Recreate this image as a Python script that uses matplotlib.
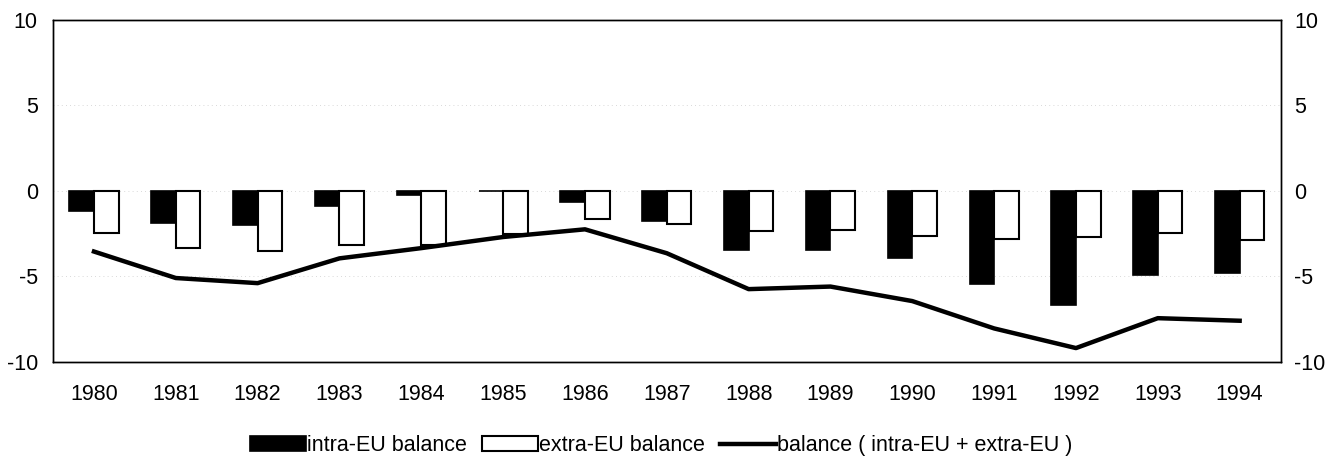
import numpy as np
import matplotlib.pyplot as plt

plt.rcParams['font.family'] = ['Liberation Sans', 'DejaVu Sans']
plt.rcParams['axes.unicode_minus'] = False

years = [1980, 1981, 1982, 1983, 1984, 1985, 1986, 1987,
         1988, 1989, 1990, 1991, 1992, 1993, 1994]
intra = [-1.2, -1.9, -2.0, -0.9, -0.25, 0.0, -0.65, -1.75,
         -3.45, -3.45, -3.95, -5.45, -6.65, -4.95, -4.8]
extra = [-2.45, -3.35, -3.5, -3.15, -3.15, -2.5, -1.65, -1.95,
         -2.35, -2.3, -2.65, -2.8, -2.7, -2.45, -2.85]
total = [-3.55, -5.1, -5.4, -3.95, -3.35, -2.7, -2.25, -3.65,
         -5.75, -5.6, -6.45, -8.05, -9.2, -7.45, -7.6]
yticks = [-10, -5, 0, 5, 10]

fs = 15.5

fig = plt.figure(figsize=(13.43, 4.62), dpi=100)
ax = fig.add_axes([0.0395, 0.217, 0.914, 0.7397])

x = np.arange(len(years))
w = 0.3
# faint dotted grid, barely visible in the scan
for yv in (-5, 0, 5):
    ax.axhline(yv, color='0.8', lw=0.6, ls=(0, (1, 4)), zorder=0)
b1 = ax.bar(x - w/2, intra, w, color='black', edgecolor='black', lw=1.2,
            label='intra-EU balance')
b2 = ax.bar(x + w/2, extra, w, color='white', edgecolor='black', lw=1.5,
            label='extra-EU balance')
l1, = ax.plot(x, total, color='black', lw=3.2,
              label='balance ( intra-EU + extra-EU )')

ax.set_xlim(-0.5, len(years) - 0.5)
ax.set_ylim(-10, 10)
ax.set_yticks(yticks)
ax.set_xticks(x)
ax.set_xticklabels([str(y) for y in years])
ax.tick_params(axis='both', length=0, labelsize=fs)
ax.tick_params(axis='x', pad=16)
ax.tick_params(axis='y', pad=11)

ax2 = ax.twinx()
ax2.set_ylim(-10, 10)
ax2.set_yticks(yticks)
ax2.tick_params(axis='y', length=0, labelsize=fs, pad=10)

for a in (ax, ax2):
    for s in a.spines.values():
        s.set_linewidth(1.0)

fig.legend(handles=[b1, b2, l1], loc='center', bbox_to_anchor=(0.492, 0.035),
           ncol=3, frameon=False, fontsize=fs, handlelength=2.6,
           handletextpad=0.05, columnspacing=0.7)

fig.savefig('out.png', dpi=100)
